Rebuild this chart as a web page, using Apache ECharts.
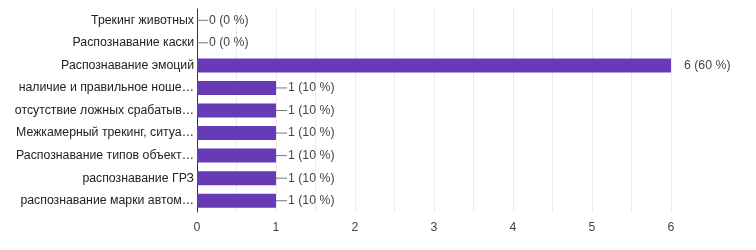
<!DOCTYPE html>
<html><head><meta charset="utf-8">
<script src="https://cdn.jsdelivr.net/npm/echarts@6/dist/echarts.min.js"></script>
<style>html,body{margin:0;padding:0;background:#fff}#c{width:756px;height:250px}</style>
</head><body><div id="c"></div>
<script>
const categories = [
  "Трекинг животных",
  "Распознавание каски",
  "Распознавание эмоций",
  "наличие и правильное ноше…",
  "отсутствие ложных срабатыв…",
  "Межкамерный трекинг, ситуа…",
  "Распознавание типов объект…",
  "распознавание ГРЗ",
  "распознавание марки автом…"
];
const counts = [0, 0, 6, 1, 1, 1, 1, 1, 1];
const percents = [0, 0, 60, 10, 10, 10, 10, 10, 10];
const xTicks = [0, 1, 2, 3, 4, 5, 6];

const FS = 12.3;
const chart = echarts.init(document.getElementById('c'), null, {renderer: 'canvas'});
chart.setOption({
  animation: false,
  grid: {left: 197, right: 85, top: 9, bottom: 38, containLabel: false},
  xAxis: {
    type: 'value', min: 0, max: 6, interval: 0.5,
    axisLine: {show: false}, axisTick: {show: false},
    splitLine: {show: true, lineStyle: {color: '#ebebeb', width: 1}},
    axisLabel: {
      color: '#444', fontFamily: 'Liberation Sans, Arial', fontSize: FS, margin: 10,
      formatter: v => xTicks.includes(v) ? String(v) : ''
    }
  },
  yAxis: {
    type: 'category', data: categories, inverse: true,
    axisLine: {show: true, lineStyle: {color: '#333', width: 1}},
    axisTick: {show: false},
    axisLabel: {color: '#222', fontFamily: 'Liberation Sans, Arial', fontSize: FS, margin: 3}
  },
  series: [{
    type: 'bar', barWidth: 14,
    itemStyle: {color: '#673ab7'},
    data: counts.map((v, i) => {
      const big = v >= 6;
      return {
        value: v,
        label: big ? {
          show: true, position: 'right', distance: 13,
          formatter: v + ' (' + percents[i] + ' %)',
          color: '#444', fontFamily: 'Liberation Sans, Arial', fontSize: FS
        } : {
          show: true, position: 'right', distance: 0,
          formatter: '{ln|}{t|' + v + ' (' + percents[i] + ' %)}',
          rich: {
            ln: {width: 11, height: 1, backgroundColor: '#777'},
            t: {color: '#444', fontFamily: 'Liberation Sans, Arial', fontSize: FS, padding: [0, 0, 0, 1]}
          }
        }
      };
    })
  }]
});
</script></body></html>
